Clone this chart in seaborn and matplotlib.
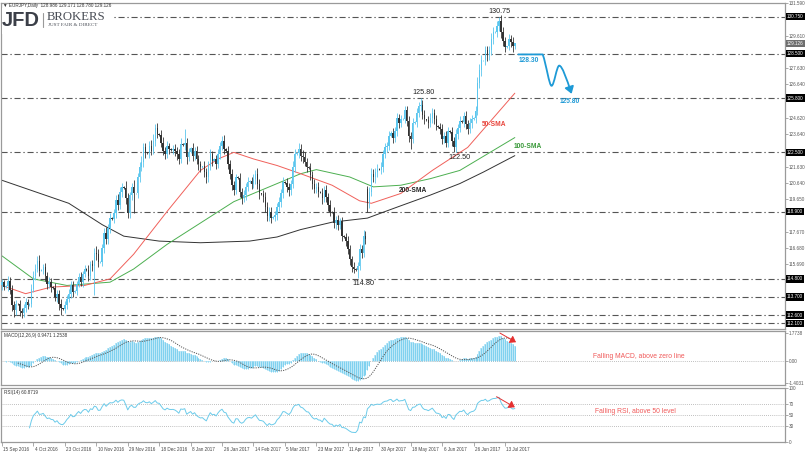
import numpy as np
import pandas as pd
import matplotlib
matplotlib.use("Agg")
import matplotlib.pyplot as plt
import matplotlib.transforms as mtransforms
from matplotlib.path import Path
from matplotlib.patches import FancyArrowPatch, Rectangle
from matplotlib.lines import Line2D
import seaborn as sns

# ---------------- data ----------------
first_open = 114.40
closes = [
    114.60, 114.30, 114.35, 114.70, 114.10, 113.20, 112.90, 113.30, 113.25, 112.85, 112.70, 113.00, 113.40, 113.20, 113.30, 114.20,
    115.00, 115.40, 115.90, 115.30, 115.35, 115.50, 115.00, 114.50, 114.60, 114.30, 114.25, 113.70, 113.90, 113.30, 113.00, 112.95,
    113.20, 113.60, 113.90, 114.40, 114.00, 114.05, 114.50, 114.90, 114.60, 115.10, 115.40, 115.35, 115.00, 115.70, 115.60, 116.40,
    116.30, 115.80, 115.85, 116.70, 117.60, 117.20, 117.90, 118.50, 118.45, 118.80, 119.60, 119.30, 120.10, 120.40, 120.35, 119.70,
    118.80, 119.90, 120.40, 120.00, 120.00, 121.00, 121.60, 121.90, 122.80, 122.50, 122.45, 122.90, 122.60, 123.20, 124.00, 123.60,
    123.55, 123.10, 122.60, 122.40, 122.90, 122.70, 122.65, 122.70, 122.60, 122.40, 122.10, 123.00, 122.95, 123.10, 122.20, 122.50,
    122.75, 122.30, 122.60, 122.10, 121.80, 121.60, 121.65, 121.30, 121.00, 121.70, 122.40, 122.00, 122.10, 121.80, 122.40, 122.90,
    123.20, 122.70, 122.60, 121.80, 121.20, 120.50, 120.20, 121.00, 120.95, 120.10, 119.70, 119.90, 120.40, 120.70, 120.75, 120.60,
    120.90, 121.20, 120.60, 120.00, 119.95, 119.80, 119.20, 118.60, 118.90, 118.50, 118.55, 118.70, 119.20, 119.50, 120.00, 120.70,
    120.65, 120.40, 120.20, 120.60, 121.60, 122.40, 122.45, 122.70, 122.30, 122.20, 121.90, 121.60, 121.55, 121.10, 120.60, 120.30,
    120.40, 120.10, 120.05, 119.70, 120.20, 119.80, 119.30, 118.90, 118.85, 118.20, 118.40, 118.10, 118.30, 117.40, 117.35, 117.10,
    116.60, 116.00, 115.50, 115.40, 115.35, 115.60, 116.60, 116.40, 117.40, 117.20, 119.40, 120.10, 121.20, 121.00, 121.30, 121.50,
    121.45, 121.60, 122.40, 122.80, 122.90, 123.50, 123.70, 123.40, 123.80, 124.60, 124.30, 124.50, 124.55, 125.10, 124.40, 123.50,
    123.30, 124.30, 124.35, 124.90, 125.30, 125.40, 124.80, 124.50, 124.45, 124.30, 124.60, 124.90, 124.50, 124.10, 124.05, 123.90,
    123.30, 123.50, 123.10, 123.80, 123.75, 123.20, 122.80, 123.60, 124.00, 124.40, 124.35, 124.70, 124.20, 123.90, 124.30, 124.50,
    124.60, 125.00, 126.70, 127.50, 128.10, 128.10, 128.70, 128.40, 128.70, 129.40, 129.80, 129.85, 130.20, 130.50, 129.80, 129.30,
    128.90, 128.95, 129.40, 129.20, 128.986, 129.126,
]
# upper / lower wick lengths in hundredths of a yen
wick_up = [
    20, 15, 5, 25, 20, 30, 25, 20, 5, 25, 20, 30, 25, 20, 5, 30,
    25, 30, 30, 35, 5, 20, 25, 20, 30, 25, 5, 30, 20, 25, 30, 5,
    25, 20, 30, 25, 30, 5, 20, 25, 30, 20, 25, 5, 30, 20, 25, 30,
    40, 30, 5, 25, 30, 35, 25, 30, 5, 25, 30, 35, 30, 25, 5, 40,
    30, 20, 25, 40, 5, 25, 30, 35, 30, 25, 5, 30, 35, 40, 20, 30,
    5, 30, 35, 25, 30, 20, 5, 25, 30, 20, 30, 35, 5, 80, 30, 25,
    5, 30, 25, 30, 25, 20, 5, 30, 25, 25, 30, 20, 5, 25, 30, 25,
    30, 35, 5, 30, 25, 30, 25, 20, 5, 30, 25, 30, 25, 30, 5, 25,
    30, 25, 35, 30, 5, 25, 30, 25, 30, 25, 5, 25, 20, 30, 25, 30,
    5, 30, 25, 20, 35, 30, 5, 40, 30, 35, 30, 25, 5, 30, 25, 30,
    25, 30, 5, 30, 25, 30, 25, 30, 5, 30, 25, 30, 20, 25, 5, 25,
    30, 25, 20, 30, 5, 25, 30, 25, 40, 30, 15, 30, 35, 30, 25, 30,
    5, 30, 25, 30, 25, 30, 10, 30, 25, 30, 25, 30, 5, 25, 25, 30,
    25, 30, 5, 30, 25, 40, 30, 25, 5, 25, 30, 30, 25, 30, 5, 25,
    30, 25, 30, 25, 5, 30, 25, 30, 25, 30, 5, 25, 30, 25, 30, 25,
    5, 30, 40, 35, 30, 5, 30, 25, 30, 35, 30, 5, 30, 25, 35, 30,
    25, 5, 30, 25, 30, 5,
]
wick_dn = [
    25, 20, 5, 30, 25, 35, 40, 30, 5, 30, 30, 25, 20, 25, 5, 20,
    20, 25, 20, 35, 5, 25, 30, 30, 25, 30, 5, 25, 30, 40, 40, 5,
    20, 25, 20, 25, 30, 5, 25, 20, 25, 30, 20, 5, 30, 25, 30, 180,
    35, 30, 5, 25, 30, 30, 25, 30, 5, 25, 30, 30, 25, 30, 5, 35,
    30, 30, 30, 120, 5, 25, 30, 25, 30, 35, 5, 30, 25, 20, 30, 25,
    5, 30, 25, 30, 25, 30, 5, 25, 30, 35, 30, 25, 5, 30, 40, 25,
    5, 30, 25, 30, 35, 30, 5, 30, 35, 30, 25, 30, 5, 30, 25, 30,
    25, 30, 5, 30, 35, 30, 30, 25, 5, 30, 35, 25, 30, 25, 5, 30,
    25, 30, 30, 35, 5, 30, 35, 30, 25, 30, 5, 25, 30, 25, 30, 25,
    5, 30, 35, 30, 25, 30, 5, 30, 30, 35, 25, 30, 5, 30, 35, 25,
    30, 30, 5, 35, 25, 30, 35, 30, 5, 30, 35, 30, 25, 30, 5, 30,
    30, 35, 30, 25, 5, 50, 25, 30, 25, 30, 50, 30, 25, 30, 35, 30,
    5, 25, 30, 25, 30, 25, 5, 30, 25, 30, 30, 25, 5, 25, 30, 35,
    60, 25, 5, 30, 25, 30, 30, 25, 5, 30, 25, 30, 30, 25, 5, 30,
    30, 25, 30, 25, 5, 30, 30, 25, 30, 25, 5, 30, 25, 30, 25, 30,
    5, 30, 25, 30, 35, 5, 30, 35, 30, 25, 30, 5, 30, 30, 35, 30,
    30, 5, 25, 30, 35, 21,
]
gap_open = {186: 120.30}

sma50_bars = [0, 12, 25, 42, 55, 67, 84, 101, 110, 118, 128, 140, 152, 168, 182, 188, 203, 219, 237, 261]
sma50_vals = [114.4, 113.9, 114.3, 114.4, 114.8, 116.3, 118.9, 121.4, 122.1, 122.5, 122.1, 121.7, 121.2, 120.5, 119.55, 119.4, 120.0, 121.4, 122.8, 126.1]
sma100_bars = [0, 16, 33, 55, 67, 84, 101, 118, 135, 152, 160, 177, 189, 203, 218, 233, 261]
sma100_vals = [116.2, 114.8, 114.4, 114.6, 115.4, 116.9, 118.2, 119.5, 120.35, 121.2, 121.45, 121.0, 120.4, 120.5, 120.9, 121.4, 123.4]
sma200_bars = [0, 17, 34, 51, 62, 80, 101, 126, 140, 152, 168, 186, 195, 203, 218, 233, 245, 261]
sma200_vals = [120.8, 120.1, 119.4, 118.1, 117.4, 117.1, 117.0, 117.1, 117.35, 117.8, 118.25, 118.5, 118.9, 119.25, 119.9, 120.6, 121.3, 122.3]

date_bars = [0, 16, 32, 48, 64, 80, 96, 112, 128, 144, 160, 176, 192, 208, 224, 240, 256]
date_labels = ["15 Sep 2016", "4 Oct 2016", "23 Oct 2016", "10 Nov 2016", "29 Nov 2016",
               "18 Dec 2016", "8 Jan 2017", "26 Jan 2017", "14 Feb 2017", "5 Mar 2017",
               "23 Mar 2017", "11 Apr 2017", "30 Apr 2017", "18 May 2017", "6 Jun 2017",
               "26 Jun 2017", "13 Jul 2017"]

price_ticks = [131.590, 130.600, 129.610, 128.620, 127.630, 126.640, 125.650, 124.620, 123.640,
               122.650, 121.630, 120.640, 119.650, 118.660, 117.670, 116.680, 115.690, 114.700,
               113.710, 112.720, 111.750]
level_values = [130.75, 128.50, 125.80, 122.50, 118.90, 114.80, 113.70, 112.60, 112.10]
level_labels = ["130.750", "128.500", "125.800", "122.500", "118.900", "114.800", "113.700", "112.600", "112.100"]
current_price = 129.126

macd_ticks = [1.7738, 0.0, -1.4031]
macd_tick_labels = ["1.7738", "0.00", "-1.4031"]
rsi_ticks = [100, 70, 50, 30, 0]

forecast_bars = [262.8, 275.2, 279.7, 283.6, 289.9]
forecast_prices = [128.46, 128.46, 126.55, 127.78, 126.06]

# ---------------- derived series ----------------
c = np.array(closes, dtype=float)
n = len(c)
o = np.r_[first_open, c[:-1]]
for k, v in gap_open.items():
    o[k] = v
hi = np.maximum(o, c) + np.array(wick_up) / 100.0
lo = np.minimum(o, c) - np.array(wick_dn) / 100.0
xb = np.arange(n)

s = pd.Series(c)
macd = s.ewm(span=12, adjust=False).mean() - s.ewm(span=26, adjust=False).mean()
signal = macd.rolling(9).mean()
d = s.diff()
gain = d.clip(lower=0).ewm(alpha=1 / 14, adjust=False).mean()
loss = (-d.clip(upper=0)).ewm(alpha=1 / 14, adjust=False).mean()
rsi = 100 - 100 / (1 + gain / loss)
rsi[:14] = np.nan

# ---------------- style ----------------
sns.set_theme(style="white")
plt.rcParams["font.family"] = ["Liberation Sans", "DejaVu Sans"]

W, H = 806, 453
fig = plt.figure(figsize=(W / 100, H / 100), dpi=100)
fig.patch.set_facecolor("white")


def rect(top, bottom, left=1, right=785):
    return [left / W, 1 - bottom / H, (right - left) / W, (bottom - top) / H]


ax = fig.add_axes(rect(3, 329))
axm = fig.add_axes(rect(331, 385))
axr = fig.add_axes(rect(388, 442))
XL = (-0.5, 398.5)
for a in (ax, axm, axr):
    a.set_xlim(*XL)
    a.set_facecolor("white")
    for sp in a.spines.values():
        sp.set_color("#9a9a9a")
        sp.set_linewidth(0.9)
    a.yaxis.tick_right()
    a.tick_params(axis="y", which="both", direction="out", length=2, width=0.5,
                  colors="#888888", labelcolor="#555555", labelsize=3.3, pad=1)
    a.grid(False)
ax.tick_params(axis="x", bottom=False, labelbottom=False)
axm.tick_params(axis="x", bottom=False, labelbottom=False)

# ---------------- main price panel ----------------
PY = (111.75, 131.59)
dash = (0, (5.5, 2.5, 1.2, 2.5))
for v in level_values:
    ax.axhline(v, color="#555555", lw=0.8, ls=dash, zorder=1)

up = c >= o
cols = np.where(up, "#5cc6ee", "#333333")
ax.vlines(xb, lo, hi, colors=cols, lw=0.6, zorder=3)
ax.bar(xb, np.maximum(np.abs(c - o), 0.03), bottom=np.minimum(o, c), width=0.72,
       color=cols, linewidth=0, zorder=4)

sns.lineplot(x=sma200_bars, y=sma200_vals, ax=ax, color="#333333", lw=0.7, zorder=2, legend=False)
sns.lineplot(x=sma100_bars, y=sma100_vals, ax=ax, color="#4caf50", lw=0.7, zorder=2, legend=False)
sns.lineplot(x=sma50_bars, y=sma50_vals, ax=ax, color="#f0605a", lw=0.7, zorder=2, legend=False)
ax.set_xlabel("")
ax.set_ylabel("")

# hide tick labels that would sit under a highlighted box (as in the reference)
boxed = level_values + [current_price]
shown = [t for t in price_ticks if min(abs(t - b) for b in boxed) > 0.36]
ax.set_yticks(shown)
ax.set_yticklabels([f"{t:.3f}" for t in shown])
ax.set_ylim(*PY)
ax.set_xlim(*XL)

btr = mtransforms.blended_transform_factory(ax.transAxes, ax.transData)
for v, lab in zip(level_values, level_labels):
    ax.text(1.0 + 2 / 784, v, lab, transform=btr, ha="left", va="center", fontsize=3.3,
            color="white", clip_on=False, zorder=10,
            bbox=dict(boxstyle="square,pad=0.25", fc="black", ec="none"))
ax.text(1.0 + 2 / 784, current_price, f"{current_price:.3f}", transform=btr, ha="left",
        va="center", fontsize=3.3, color="white", clip_on=False, zorder=10,
        bbox=dict(boxstyle="square,pad=0.25", fc="#6e6e6e", ec="none"))

# price annotations
afs = 5.2
ax.text(253, 130.85, "130.75", ha="center", va="bottom", fontsize=afs, color="#222222", zorder=6)
ax.text(214.3, 125.92, "125.80", ha="center", va="bottom", fontsize=afs, color="#222222", zorder=6)
ax.text(232.6, 122.42, "122.50", ha="center", va="top", fontsize=afs, color="#222222", zorder=6)
ax.text(183.7, 114.74, "114.80", ha="center", va="top", fontsize=afs, color="#222222", zorder=6)
ax.text(250.6, 124.22, "50-SMA", ha="center", va="center", fontsize=4.8, color="#e8453c",
        fontweight="bold", zorder=6)
ax.text(267.4, 122.87, "100-SMA", ha="center", va="center", fontsize=4.8, color="#3a9a3a",
        fontweight="bold", zorder=6)
ax.text(209.0, 120.17, "200-SMA", ha="center", va="center", fontsize=4.8, color="#222222",
        fontweight="bold", zorder=6)
ax.text(268.2, 128.12, "128.30", ha="center", va="center", fontsize=4.8, color="#1f9ad6",
        fontweight="bold", zorder=6)
ax.text(288.9, 125.57, "125.80", ha="center", va="center", fontsize=4.8, color="#1f9ad6",
        fontweight="bold", zorder=6)

# forecast arrow
fb, fp = forecast_bars, forecast_prices
verts = [(fb[0], fp[0]), (fb[1], fp[1]),
         (fb[1] + 1.8, fp[1] - 0.6), (fb[2] - 1.2, fp[2]), (fb[2], fp[2]),
         (fb[2] + 1.3, fp[2]), (fb[3] - 1.3, fp[3]), (fb[3], fp[3]),
         (fb[3] + 1.5, fp[3]), (fb[4] - 2.5, fp[4] + 0.9), (fb[4], fp[4])]
codes = [Path.MOVETO, Path.LINETO,
         Path.CURVE4, Path.CURVE4, Path.CURVE4,
         Path.CURVE4, Path.CURVE4, Path.CURVE4,
         Path.CURVE4, Path.CURVE4, Path.CURVE4]
arr = FancyArrowPatch(path=Path(verts, codes), arrowstyle="-|>,head_length=0.45,head_width=0.3",
                      mutation_scale=9, color="#1e9ad6", lw=1.3, zorder=7)
ax.add_patch(arr)

# ---------------- MACD panel ----------------
m_top = max(1.92, float(np.nanmax(macd.values)) * 1.02)
m_bot = min(-1.54, float(np.nanmin(macd.values)) * 1.05)
axm.bar(xb, macd.values, width=1.0, color="#bfe8f7", linewidth=0, zorder=2)
axm.vlines(xb, 0, macd.values, colors="#74cdee", lw=0.6, zorder=2.5)
axm.plot(xb, signal.values, ls=(0, (1.2, 1.2)), color="#555555", lw=0.7, zorder=3)
axm.axhline(0, color="#aaaaaa", ls=(0, (1, 1.5)), lw=0.6, zorder=1)
axm.set_yticks(macd_ticks)
axm.set_yticklabels(macd_tick_labels)
axm.set_ylim(m_bot, m_top)
axm.set_xlim(*XL)
axm.text(3 / 784, 0.96, "MACD(12,26,9) 0.9471 1.2538", transform=axm.transAxes, ha="left",
         va="top", fontsize=3.3, color="#333333")
axm.annotate("", xy=(261.6, 1.20), xytext=(253.4, 1.79),
             arrowprops=dict(arrowstyle="-|>,head_length=0.5,head_width=0.35", color="#e53030",
                             lw=0.7, shrinkA=0, shrinkB=0, mutation_scale=7), zorder=6)
axm.text(300.8, 0.28, "Falling MACD, above zero line", ha="left", va="center", fontsize=4.9,
         color="#f05a5a")

# ---------------- RSI panel ----------------
for lv in (70, 50, 30):
    axr.axhline(lv, color="#aaaaaa", ls=(0, (1, 1.5)), lw=0.6, zorder=1)
rsi_df = pd.DataFrame({"bar": xb, "rsi": rsi.values}).dropna()
sns.lineplot(data=rsi_df, x="bar", y="rsi", ax=axr, color="#6ccbea", lw=0.7, zorder=3, legend=False)
axr.set_xlabel("")
axr.set_ylabel("")
axr.set_yticks(rsi_ticks)
axr.set_yticklabels([str(t) for t in rsi_ticks])
axr.set_ylim(0, 100)
axr.set_xlim(*XL)
axr.text(3 / 784, 0.97, "RSI(14) 60.8719", transform=axr.transAxes, ha="left", va="top",
         fontsize=3.3, color="#333333")
axr.annotate("", xy=(261.0, 64.3), xytext=(251.7, 83.9),
             arrowprops=dict(arrowstyle="-|>,head_length=0.5,head_width=0.35", color="#e53030",
                             lw=0.7, shrinkA=0, shrinkB=0, mutation_scale=7), zorder=6)
axr.text(301.8, 57.4, "Falling RSI, above 50 level", ha="left", va="center", fontsize=4.9,
         color="#f05a5a")

axr.set_xticks(date_bars)
axr.set_xticklabels(date_labels)
axr.tick_params(axis="x", bottom=True, direction="out", length=3, width=0.5, colors="#888888",
                labelcolor="#444444", labelsize=3.3, pad=0.5)
offset = mtransforms.ScaledTranslation(1.5 / 100, 0, fig.dpi_scale_trans)
for lab in axr.get_xticklabels():
    lab.set_horizontalalignment("left")
    lab.set_transform(lab.get_transform() + offset)

# ---------------- header and logo ----------------
fig.patches.append(Rectangle((1.5 / W, 1 - 34 / H), 112 / W, 26 / H, transform=fig.transFigure,
                             fc="white", ec="none", zorder=1))
fig.text(3 / W, 1 - 5.5 / H, "\u25bc EURJPY,Daily  128.986 129.171 128.780 129.126",
         ha="left", va="center", fontsize=3.3, color="#333333", zorder=5)
fig.text(2 / W, 1 - 20 / H, "JFD", ha="left", va="center", fontsize=14.5, fontweight="bold",
         color="#3b3f48", zorder=5)
fig.add_artist(Line2D([42.5 / W, 42.5 / W], [1 - 13 / H, 1 - 27 / H], color="#9a9a9a", lw=0.8,
                      zorder=5))
fig.text(47 / W, 1 - 16.5 / H, "BROKERS", ha="left", va="center", fontsize=9.2,
         family=["Liberation Serif", "DejaVu Serif"], color="#4a4e57", zorder=5)
fig.text(48 / W, 1 - 25 / H, "JUST FAIR & DIRECT", ha="left", va="center", fontsize=3.7,
         family=["Liberation Serif", "DejaVu Serif"], color="#4a4e57", zorder=5)

fig.savefig("out.png", dpi=100, facecolor="white")
